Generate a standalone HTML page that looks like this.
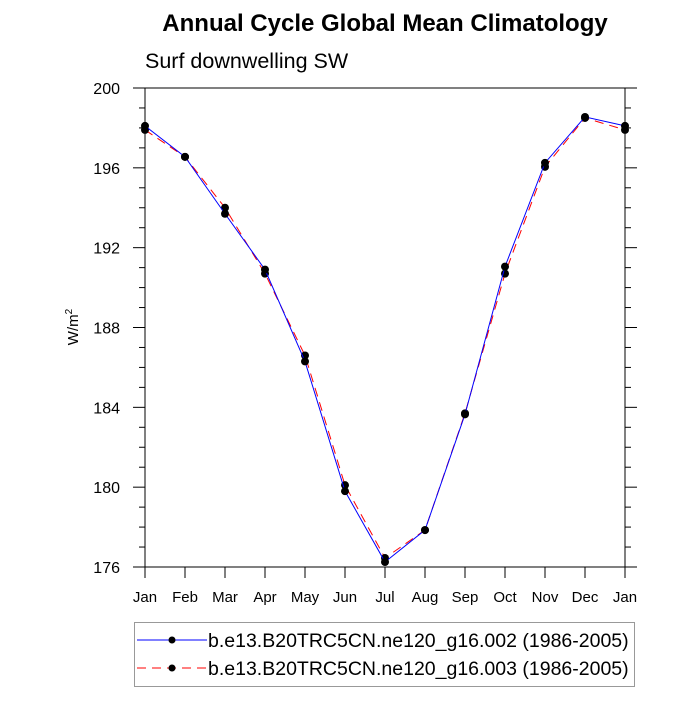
<!DOCTYPE html>
<html><head><meta charset="utf-8"><style>
body{margin:0;background:#fff;}
svg text{font-family:"Liberation Sans",Arial,sans-serif;}
</style></head><body>
<svg id="chart" width="700" height="700" viewBox="0 0 700 700">
<text x="385" y="31" font-size="24" font-weight="bold" text-anchor="middle">Annual Cycle Global Mean Climatology</text>
<text x="145" y="68" font-size="21.5">Surf downwelling SW</text>
<text transform="translate(78,327) rotate(-90)" font-size="15" text-anchor="middle">W/m<tspan font-size="10" dy="-6">2</tspan></text>
<g id="axes"></g>
<g id="series"></g>
<g>
<rect x="134.5" y="622.5" width="500" height="64" fill="#fff" stroke="#999"/>
<g>
<line x1="137" y1="640" x2="207" y2="640" stroke="#0000ff" stroke-width="1"/>
<circle cx="172" cy="640" r="3.5" fill="#000"/>
<text x="208" y="647" font-size="19.5">b.e13.B20TRC5CN.ne120_g16.002 (1986-2005)</text>
</g>
<g>
<line x1="137" y1="668" x2="207" y2="668" stroke="#ff0000" stroke-width="1" stroke-dasharray="9,6"/>
<circle cx="172" cy="668" r="3.5" fill="#000"/>
<text x="208" y="675" font-size="19.5">b.e13.B20TRC5CN.ne120_g16.003 (1986-2005)</text>
</g>
</g>
</svg>
<script>
const months=["Jan","Feb","Mar","Apr","May","Jun","Jul","Aug","Sep","Oct","Nov","Dec","Jan"];
const series002=[198.1,196.55,193.7,190.9,186.3,179.8,176.25,177.85,183.65,191.05,196.25,198.55,198.1];
const series003=[197.9,196.55,194.0,190.7,186.6,180.1,176.45,177.85,183.7,190.7,196.05,198.5,197.9];
const yTicks=[176,180,184,188,192,196,200];
const L=145,R=625,T=88,B=567,yMin=176,yMax=200;
const xs=i=>L+(R-L)*i/(months.length-1);
const ys=v=>B-(B-T)*(v-yMin)/(yMax-yMin);
const NS="http://www.w3.org/2000/svg";
const ax=document.getElementById('axes'),sr=document.getElementById('series');
function mk(tag,at,parent){const e=document.createElementNS(NS,tag);for(const k in at)e.setAttribute(k,at[k]);parent.appendChild(e);return e;}
const frame=mk('rect',{x:L,y:T,width:R-L,height:B-T,fill:'none',stroke:'#000','stroke-width':1},ax);


for(let v=yMin;v<=yMax;v+=1){
  const y=ys(v);const major=(v-yMin)%4===0;const len=major?12:6;
  const t1=mk('line',{x1:L,y1:y,x2:L-len,y2:y,stroke:'#000'},ax);
  
  
  const t2=mk('line',{x1:R,y1:y,x2:R+len,y2:y,stroke:'#000'},ax);
  
  
}
yTicks.forEach(v=>{
  const t=mk('text',{x:L-25,y:ys(v)+6,'font-size':16,'text-anchor':'end'},ax);t.textContent=v;
  
  
});
months.forEach((m,i)=>{
  const x=xs(i);
  const t=mk('line',{x1:x,y1:B,x2:x,y2:B+11,stroke:'#000'},ax);
  
  
  const lb=mk('text',{x:x,y:B+35,'font-size':15,'text-anchor':'middle'},ax);lb.textContent=m;
  
  
});
function draw(data,color,dash,name){
  const pts=data.map((v,i)=>xs(i)+','+ys(v)).join(' ');
  const pl=mk('polyline',{points:pts,fill:'none',stroke:color,'stroke-width':1,'stroke-dasharray':dash},sr);
  
  
  data.forEach((v,i)=>{
    const c=mk('circle',{cx:xs(i),cy:ys(v),r:4,fill:'#000'},sr);
    
    
  });
}
draw(series003,'#ff0000','9,6','series-003');
draw(series002,'#0000ff','none','series-002');
</script>
</body></html>
